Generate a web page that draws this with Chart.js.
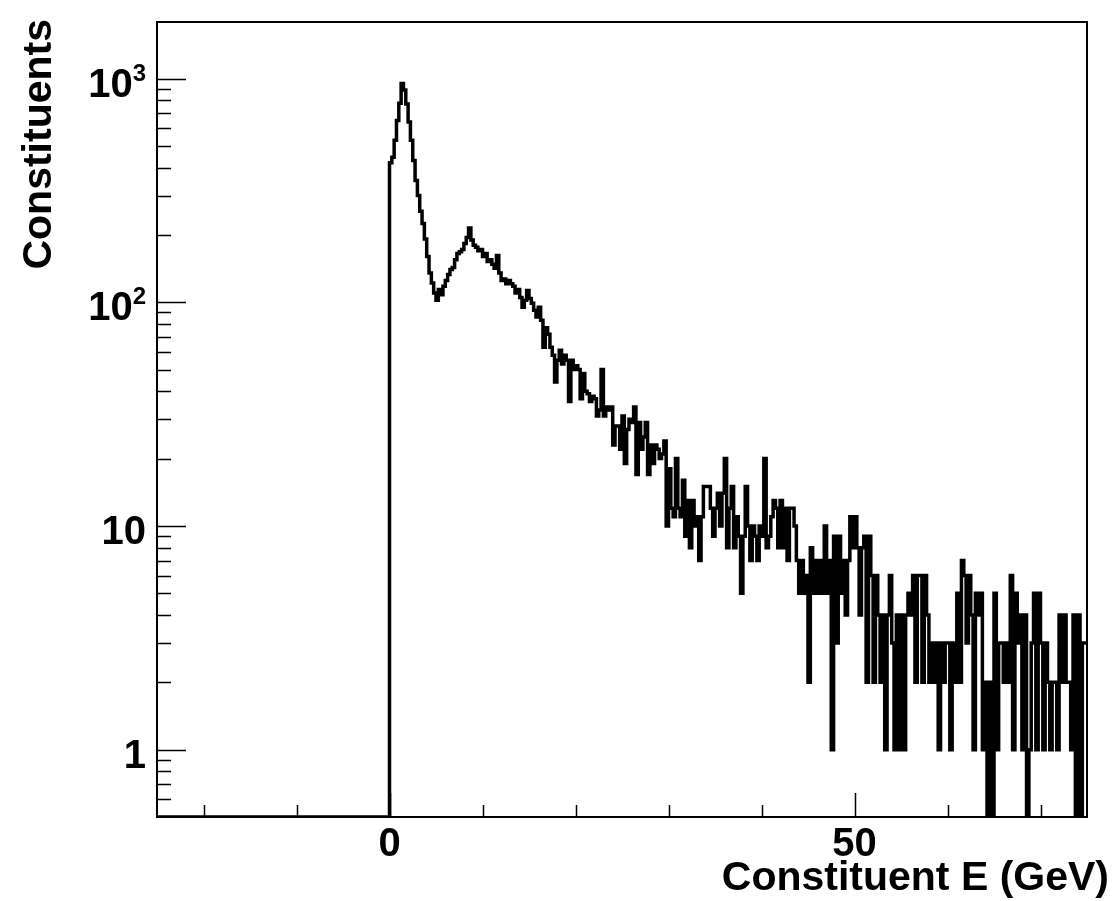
<!DOCTYPE html>
<html>
<head>
<meta charset="utf-8">
<script src="https://cdn.jsdelivr.net/npm/chart.js@4.4.1/dist/chart.umd.min.js"></script>
<style>
    html, body { margin: 0; padding: 0; background: #fff; }
    canvas { display: block; }
</style>
</head>
<body>
<canvas id="hist" width="1115" height="901"></canvas>
<script>
// constituent energy spectrum, 0.25 GeV bins starting at 0 GeV (nothing below 0)
const binWidth = 0.25
const firstEdge = 0
const countsE0to5 = [420, 445, 530, 650, 775, 950, 890, 770, 640, 530, 430, 350, 300, 255, 225, 192, 160, 135, 122, 110]
const countsE5to10 = [102, 114, 108, 118, 125, 133, 140, 143, 155, 165, 168, 172, 183, 195, 215, 190, 180, 176, 170, 172]
const countsE10to15 = [160, 165, 152, 155, 148, 142, 162, 135, 125, 127, 121, 125, 121, 118, 110, 114, 105, 95, 102, 113]
const countsE15to20 = [104, 99, 92, 86, 95, 83, 63, 77, 72, 63, 58, 44, 55, 61, 53, 58, 55, 36, 55, 50]
const countsE20to25 = [52, 50, 37, 48, 40, 39, 36, 38, 37, 31, 33, 50, 31, 34, 33, 34, 23, 28, 28, 22]
const countsE25to30 = [31, 19, 27, 30, 29, 34, 17, 29, 22, 25, 29, 17, 23, 19, 23, 22, 20, 21, 24, 10]
const countsE30to35 = [18, 12, 11, 20, 12, 11, 16, 9, 13, 8, 13, 10, 11, 7, 11, 15, 15, 15, 12, 9]
const countsE35to40 = [12, 14, 10, 14, 20, 8, 12, 15, 8, 11, 9, 5, 9, 15, 10, 7, 10, 9, 7, 10]
const countsE40to45 = [9, 20, 8, 9, 11, 13, 12, 8, 13, 8, 12, 7, 12, 12, 10, 7, 5, 7, 5, 6]
const countsE45to50 = [2, 8, 5, 7, 5, 7, 5, 10, 5, 7, 1, 9, 3, 9, 5, 7, 4, 7, 11, 8]
const countsE50to55 = [11, 8, 4, 8, 9, 2, 9, 6, 2, 6, 4, 2, 4, 1, 4, 6, 3, 1, 4, 1]
const countsE55to60 = [4, 1, 4, 5, 4, 6, 2, 6, 6, 2, 6, 4, 2, 3, 2, 3, 1, 3, 2, 3]
const countsE60to65 = [3, 1, 3, 2, 5, 2, 7, 6, 3, 6, 4, 1, 5, 4, 5, 1, 2, 0, 2, 0]
const countsE65to70 = [5, 1, 3, 3, 2, 3, 2, 6, 1, 5, 3, 4, 1, 4, 0, 1, 3, 5, 1, 5]
const countsE70to75 = [3, 1, 3, 2, 1, 2, 2, 1, 4, 2, 4, 2, 2, 1, 4, 0, 4, 0, 3, 3]

const xMin = -25
const xMax = 75
const yMin = 0.5
const yMax = 1790
const xTickValues = [-20, -10, 0, 10, 20, 30, 40, 50, 60, 70]
const xLabelValues = [0, 50]
// y labels as [mantissa text, exponent text]
const yLabelText = { 1: ['1', ''], 10: ['10', ''], 100: ['10', '2'], 1000: ['10', '3'] }

const counts = [].concat(countsE0to5, countsE5to10, countsE10to15, countsE15to20, countsE20to25,
    countsE25to30, countsE30to35, countsE35to40, countsE40to45, countsE45to50,
    countsE50to55, countsE55to60, countsE60to65, countsE65to70, countsE70to75)

// empty bins sit on the bottom of the log axis, like ROOT draws them
const shown = c => (c > 0 ? c : yMin)

let points = [{ x: xMin, y: shown(0) }]
counts.forEach((c, i) => {
    points.push({ x: firstEdge + i * binWidth, y: shown(c) })
})
points.push({ x: firstEdge + counts.length * binWidth, y: shown(counts[counts.length - 1]) })

let yTickValues = []
;[0.1, 1, 10, 100, 1000].forEach(d => {
    for (let m = 1; m <= 9; m++) {
        const v = m * d
        if (v > yMin && v < yMax) yTickValues.push(v)
    }
})

const font = '"Liberation Sans", Arial, sans-serif'

const rootFrame = {
    id: 'rootFrame',
    afterDraw(chart) {
        const ctx = chart.ctx
        const area = chart.chartArea
        const xs = chart.scales.x
        const ys = chart.scales.y
        ctx.save()
        ctx.strokeStyle = '#000'
        ctx.lineWidth = 1.5
        ctx.beginPath()
        xs.ticks.forEach(t => {
            const px = Math.round(xs.getPixelForValue(t.value)) + 0.5
            const len = xLabelValues.includes(t.value) ? 24 : 12
            ctx.moveTo(px, area.bottom)
            ctx.lineTo(px, area.bottom - len)
        })
        ys.ticks.forEach(t => {
            const py = Math.round(ys.getPixelForValue(t.value)) + 0.5
            const len = yLabelText[t.value] ? 29 : 14
            ctx.moveTo(area.left, py)
            ctx.lineTo(area.left + len, py)
        })
        ctx.stroke()

        ctx.lineWidth = 2
        ctx.strokeRect(area.left, area.top, area.right - area.left, area.bottom - area.top)

        ctx.fillStyle = '#000'
        ctx.textBaseline = 'alphabetic'

        // y tick labels with raised exponents
        const labelRight = area.left - 11
        Object.keys(yLabelText).forEach(k => {
            const [base, exp] = yLabelText[k]
            const py = ys.getPixelForValue(Number(k))
            ctx.font = 'bold 24px ' + font
            const ew = exp ? ctx.measureText(exp).width : 0
            ctx.textAlign = 'left'
            if (exp) ctx.fillText(exp, labelRight - ew, py + 2)
            ctx.font = 'bold 40px ' + font
            ctx.textAlign = 'right'
            ctx.fillText(base, labelRight - ew, py + 18)
        })

        ctx.font = 'bold 41px ' + font
        ctx.textAlign = 'right'
        ctx.fillText('Constituent E (GeV)', 1109, 890)

        ctx.translate(51, 19)
        ctx.rotate(-Math.PI / 2)
        ctx.fillText('Constituents', 0, 0)
        ctx.restore()
    }
}

new Chart(document.getElementById('hist'), {
    type: 'line',
    data: {
        datasets: [{
            label: 'Constituents',
            data: points,
            borderColor: '#000',
            borderWidth: 3.5,
            stepped: true,
            pointRadius: 0,
            fill: false
        }]
    },
    options: {
        responsive: false,
        animation: false,
        layout: {
            padding: { top: 22, right: 28, left: 0, bottom: 0 }
        },
        scales: {
            x: {
                type: 'linear',
                min: xMin,
                max: xMax,
                grid: { display: false, drawTicks: false },
                border: { display: false },
                afterBuildTicks: scale => {
                    scale.ticks = xTickValues.map(v => ({ value: v }))
                },
                afterFit: scale => {
                    scale.height = 84
                    scale.paddingLeft = 0
                    scale.paddingRight = 0
                },
                ticks: {
                    autoSkip: false,
                    maxRotation: 0,
                    padding: 4,
                    color: '#000',
                    font: { family: font, size: 40, weight: 'bold' },
                    callback: v => (xLabelValues.includes(v) ? String(v) : '')
                }
            },
            y: {
                type: 'logarithmic',
                min: yMin,
                max: yMax,
                grid: { display: false, drawTicks: false },
                border: { display: false },
                afterBuildTicks: scale => {
                    scale.ticks = yTickValues.map(v => ({ value: v }))
                },
                afterFit: scale => {
                    scale.width = 157
                    scale.paddingTop = 0
                    scale.paddingBottom = 0
                },
                ticks: { display: false, autoSkip: false }
            }
        },
        plugins: {
            legend: { display: false },
            tooltip: { enabled: false }
        }
    },
    plugins: [rootFrame]
})
</script>
</body>
</html>
